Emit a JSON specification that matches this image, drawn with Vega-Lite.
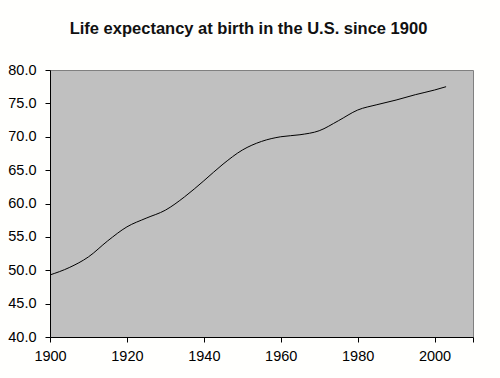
{
  "$schema": "https://vega.github.io/schema/vega-lite/v6.json",
  "width": 423,
  "height": 267,
  "autosize": {"type": "none"},
  "padding": {"left": 50, "top": 70, "right": 27, "bottom": 41},
  "background": "#fffffd",
  "title": {
    "text": "Life expectancy at birth in the U.S. since 1900",
    "font": "Liberation Sans",
    "fontSize": 16.5,
    "fontWeight": "bold",
    "color": "#111111",
    "anchor": "middle",
    "frame": "group",
    "dx": -13,
    "offset": 25
  },
  "config": {
    "view": {"fill": "#c0c0c0", "stroke": "#808080", "strokeWidth": 1},
    "axis": {
      "labelFont": "Liberation Sans",
      "labelFontSize": 14.5,
      "labelColor": "#000000",
      "domainColor": "#000000",
      "tickColor": "#000000",
      "tickSize": 5,
      "grid": false,
      "title": null
    }
  },
  "data": {
    "values": [
      {"year": 1900, "life": 49.3},
      {"year": 1905, "life": 50.4},
      {"year": 1910, "life": 52.0},
      {"year": 1915, "life": 54.4},
      {"year": 1920, "life": 56.5},
      {"year": 1925, "life": 57.8},
      {"year": 1930, "life": 59.0},
      {"year": 1935, "life": 61.0},
      {"year": 1940, "life": 63.4},
      {"year": 1945, "life": 65.9},
      {"year": 1950, "life": 68.0},
      {"year": 1955, "life": 69.3},
      {"year": 1960, "life": 70.0},
      {"year": 1965, "life": 70.3},
      {"year": 1970, "life": 70.9},
      {"year": 1975, "life": 72.4},
      {"year": 1980, "life": 74.0},
      {"year": 1985, "life": 74.8},
      {"year": 1990, "life": 75.5},
      {"year": 1995, "life": 76.3},
      {"year": 2000, "life": 77.0},
      {"year": 2003, "life": 77.5}
    ]
  },
  "mark": {"type": "line", "color": "#000000", "strokeWidth": 1, "interpolate": "monotone"},
  "encoding": {
    "x": {
      "field": "year",
      "type": "quantitative",
      "scale": {"domain": [1900, 2010], "nice": false, "zero": false},
      "axis": {"values": [1900, 1920, 1940, 1960, 1980, 2000, 2010], "labelExpr": "datum.value == 2010 ? '' : datum.label", "format": "d", "labelPadding": 7, "labelFlush": false}
    },
    "y": {
      "field": "life",
      "type": "quantitative",
      "scale": {"domain": [40, 80], "nice": false, "zero": false},
      "axis": {"values": [40, 45, 50, 55, 60, 65, 70, 75, 80], "format": ".1f", "labelPadding": 9, "labelFlush": false}
    }
  }
}
